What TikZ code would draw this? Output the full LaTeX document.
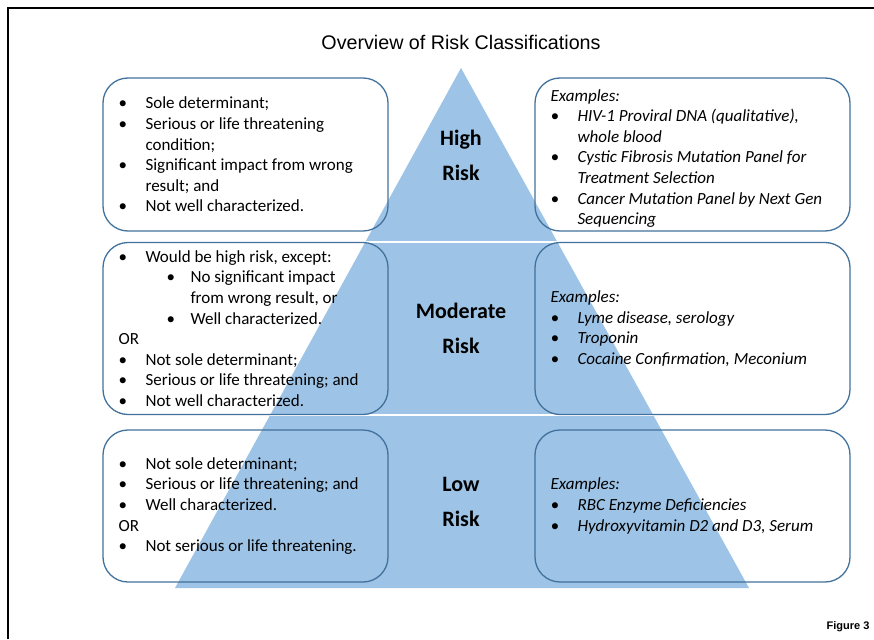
\documentclass[tikz,border=0pt]{standalone}
\usepackage{fontspec}
\setmainfont{Carlito}
\newfontfamily\arialfont{Liberation Sans}
\usetikzlibrary{positioning}

\definecolor{pyrblue}{RGB}{157,195,230}
\definecolor{boxline}{RGB}{65,113,156}

% bullet and nested bullet, hanging indents by hand
\newcommand{\bul}{\makebox[27pt][l]{\textbullet}}
\newcommand{\subbul}{\hspace*{48pt}\makebox[24pt][l]{\textbullet}}

\begin{document}
\begin{tikzpicture}[x=1pt, y=-1pt,
    critbox/.style={draw=boxline, line width=1.3pt, rounded corners=25pt, minimum width=285pt, inner sep=0pt},
    exbox/.style={critbox, minimum width=315pt},
    bodytext/.style={align=left, inner sep=0pt, font=\fontsize{17}{20.6}\selectfont},
    extext/.style={bodytext, font=\fontsize{17}{20.6}\selectfont\itshape},
    tier/.style={align=center, inner sep=0pt, font=\fontsize{22}{35}\selectfont\bfseries}
]
    \useasboundingbox (0,0) rectangle (874,639);

    % page frame
    \draw[line width=2pt] (8,639) -- (8,8) -- (874,8);

    % Title
    \node[font=\arialfont\fontsize{19.7}{24}\selectfont] (title) at (461,42) {Overview of Risk Classifications};

    % Pyramid, split in three tiers
    \coordinate (apex) at (461,68);
    \coordinate (baseL) at (175,588);
    \coordinate (baseR) at (749,588);
    \fill[pyrblue] (apex) -- (baseR) -- (baseL) -- cycle;
    \begin{scope}
        \clip (apex) -- (baseR) -- (baseL) -- cycle;
        \draw[white, line width=1.5pt] (0,242) -- (874,242) (0,415) -- (874,415);
    \end{scope}

    % Boxes
    \node[critbox, minimum height=153pt] (highcrit) at (245.5,154.5) {};
    \node[exbox, minimum height=153pt] (highex) at (692.5,154.5) {};
    \node[critbox, minimum height=172pt] (modcrit) at (245.5,328.5) {};
    \node[exbox, minimum height=172pt] (modex) at (692.5,328.5) {};
    \node[critbox, minimum height=152pt] (lowcrit) at (245.5,506) {};
    \node[exbox, minimum height=152pt] (lowex) at (692.5,506) {};

    % High risk
    \node[bodytext, right=16pt of highcrit.west] (highcrittext) {%
        \bul Sole determinant;\\
        \bul Serious or life threatening\\
        \hspace*{27pt}condition;\\
        \bul Significant impact from wrong\\
        \hspace*{27pt}result; and\\
        \bul Not well characterized.};
    \node[extext, right=16pt of highex.west, yshift=-4pt] (highextext) {%
        Examples:\\
        \bul HIV-1 Proviral DNA (qualitative),\\
        \hspace*{27pt}whole blood\\
        \bul Cystic Fibrosis Mutation Panel for\\
        \hspace*{27pt}Treatment Selection\\
        \bul Cancer Mutation Panel by Next Gen\\
        \hspace*{27pt}Sequencing};

    % Moderate risk
    \node[bodytext, right=16pt of modcrit.west] (modcrittext) {%
        \bul Would be high risk, except:\\
        \subbul No significant impact\\
        \hspace*{72pt}from wrong result, or\\
        \subbul Well characterized.\\
        OR\\
        \bul Not sole determinant;\\
        \bul Serious or life threatening; and\\
        \bul Not well characterized.};
    \node[extext, right=16pt of modex.west] (modextext) {%
        Examples:\\
        \bul Lyme disease, serology\\
        \bul Troponin\\
        \bul Cocaine Confirmation, Meconium};

    % Low risk
    \node[bodytext, right=16pt of lowcrit.west] (lowcrittext) {%
        \bul Not sole determinant;\\
        \bul Serious or life threatening; and\\
        \bul Well characterized.\\
        OR\\
        \bul Not serious or life threatening.};
    \node[extext, right=16pt of lowex.west] (lowextext) {%
        Examples:\\
        \bul RBC Enzyme Deficiencies\\
        \bul Hydroxyvitamin D2 and D3, Serum};

    % Tier labels
    \node[tier] (high) at (461,155) {High\\Risk};
    \node[tier] (moderate) at (461,328) {Moderate\\Risk};
    \node[tier] (low) at (461,502) {Low\\Risk};

    \node[anchor=east, font=\arialfont\bfseries\fontsize{11}{13}\selectfont] (fignum) at (873,627) {Figure 3};
\end{tikzpicture}
\end{document}
